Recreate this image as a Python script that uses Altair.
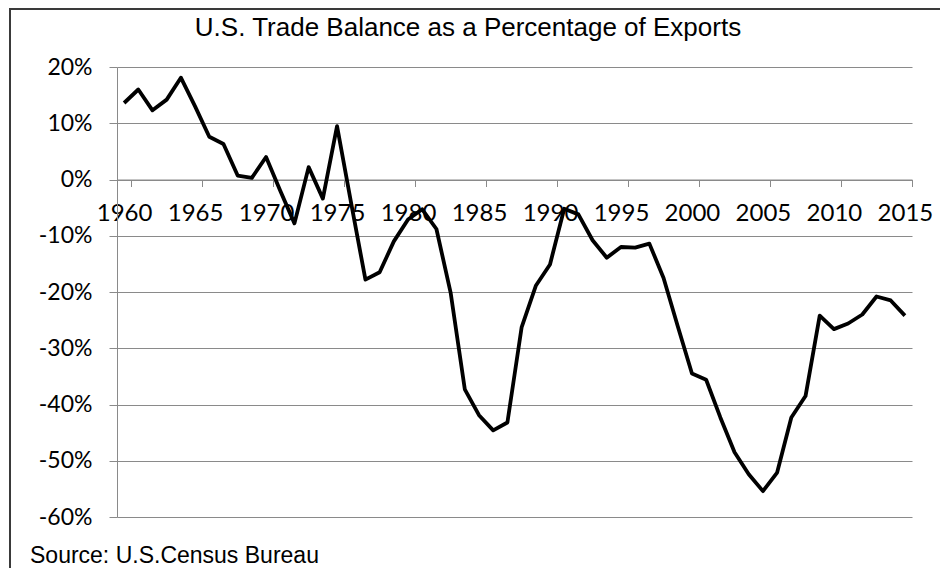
import altair as alt
import pandas as pd

title_text = ["U.S. Trade Balance as a Percentage of Exports"]
source_text = ["Source: U.S.Census Bureau"]

years = list(range(1960, 2016))
balance_pct = [13.6, 16.0, 12.3, 14.2, 18.1, 13.0, 7.6, 6.3, 0.7, 0.3,
               4.0, -2.0, -7.8, 2.2, -3.4, 9.5, -4.3, -17.8, -16.5, -11.0,
               -7.1, -5.3, -8.8, -20.1, -37.3, -41.9, -44.6, -43.2, -26.3, -18.9,
               -15.1, -5.2, -6.2, -10.8, -13.9, -12.0, -12.1, -11.4, -17.5, -26.1,
               -34.5, -35.6, -42.3, -48.5, -52.4, -55.4, -52.1, -42.3, -38.5, -24.2,
               -26.6, -25.6, -24.0, -20.8, -21.5, -24.2]
x_tick_years = years[::5]
y_ticks = [-60, -50, -40, -30, -20, -10, 0, 10, 20]

df = pd.DataFrame({"year": years, "pct": balance_pct})

GRAY = "#8a8a8a"
W, H = 795, 450

line = alt.Chart(df).mark_line(color="black", strokeWidth=3.8, strokeJoin="round").encode(
    x=alt.X(
        "year:O",
        bandPosition=0.5,
        scale=alt.Scale(type="band", paddingInner=0, paddingOuter=0),
        axis=alt.Axis(
            title=None,
            values=x_tick_years,
            orient="bottom",
            offset=-H * 60 / 80,
            tickBand="extent",
            tickSize=7,
            tickColor=GRAY,
            domainColor=GRAY,
            domainWidth=1,
            labelAngle=0,
            labelFont="Lato",
            labelFontSize=24,
            labelColor="black",
            labelPadding=15,
            labelOverlap=False,
            labelFlush=False,
            grid=False,
        ),
    ),
    y=alt.Y(
        "pct:Q",
        scale=alt.Scale(domain=[-60, 20], nice=False),
        axis=alt.Axis(
            title=None,
            values=y_ticks,
            labelExpr="datum.value + '%'",
            grid=True,
            gridColor=GRAY,
            gridWidth=1,
            tickSize=8,
            tickColor=GRAY,
            domainColor=GRAY,
            labelFont="Lato",
            labelFontSize=23,
            labelColor="black",
            labelPadding=17,
        ),
    ),
)

border = alt.Chart(pd.DataFrame({"b": [1]})).mark_rect(
    fillOpacity=0, stroke="#3a3a3a", strokeWidth=2
).encode(
    x=alt.value(-107), x2=alt.value(900), y=alt.value(-58), y2=alt.value(620)
)

title = alt.Chart(pd.DataFrame({"t": title_text})).mark_text(
    align="center", baseline="alphabetic", font="Liberation Sans", fontSize=26, color="black"
).encode(
    x=alt.value(351), y=alt.value(-31), text="t:N"
)

source = alt.Chart(pd.DataFrame({"t": source_text})).mark_text(
    align="left", baseline="alphabetic", font="Liberation Sans", fontSize=23, color="black"
).encode(
    x=alt.value(-87), y=alt.value(496), text="t:N"
)

chart = alt.layer(border, line, title, source).properties(
    width=W,
    height=H,
    autosize=alt.AutoSizeParams(type="none"),
    padding={"left": 109, "top": 59, "right": 28, "bottom": 51},
).configure_view(strokeWidth=0)

chart.save("out.html", embed_options={"renderer": "svg", "actions": False})
